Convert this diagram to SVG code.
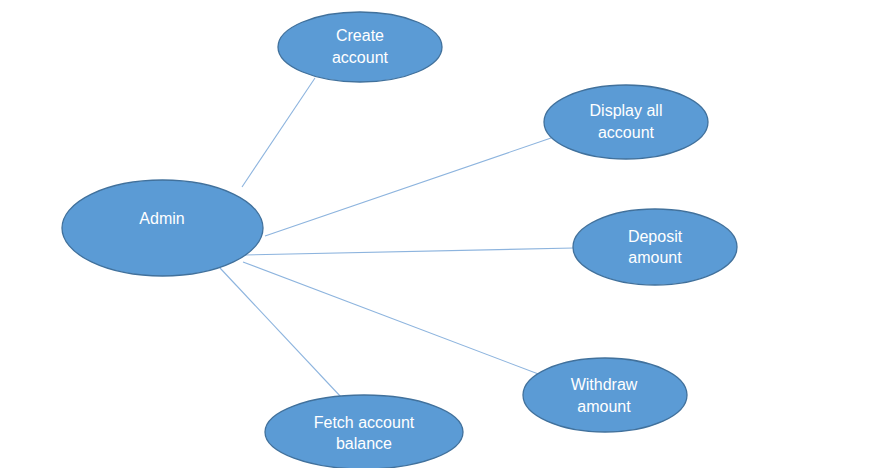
<svg xmlns="http://www.w3.org/2000/svg" width="886" height="468" viewBox="0 0 886 468">
<style>
.n ellipse{fill:#5b9bd5;stroke:#41719c;stroke-width:1.3}
.n text{fill:#ffffff;font-family:"Liberation Sans",Arial,sans-serif;font-size:16px;text-anchor:middle}
#edges line{stroke:#8db4de;stroke-width:1.1}
</style>
<rect width="886" height="468" fill="#ffffff"/>
<g id="edges">
<line x1="242" y1="187" x2="315" y2="78"/>
<line x1="265" y1="236" x2="551" y2="138"/>
<line x1="245" y1="255" x2="574" y2="248"/>
<line x1="243" y1="262" x2="541" y2="375"/>
<line x1="220" y1="268" x2="341" y2="397"/>
</g>
<g id="create" class="n"><ellipse cx="360" cy="47" rx="82" ry="35"/><text x="360" y="41">Create</text><text x="360" y="63">account</text></g>
<g id="admin" class="n"><ellipse cx="162.5" cy="228" rx="100.5" ry="48"/><text x="162" y="224">Admin</text></g>
<g id="display" class="n"><ellipse cx="626" cy="122" rx="82" ry="37"/><text x="626" y="116">Display all</text><text x="626" y="138">account</text></g>
<g id="deposit" class="n"><ellipse cx="655" cy="247" rx="82" ry="38"/><text x="655" y="242">Deposit</text><text x="655" y="263">amount</text></g>
<g id="withdraw" class="n"><ellipse cx="605" cy="395" rx="82" ry="37"/><text x="604" y="390">Withdraw</text><text x="604" y="412">amount</text></g>
<g id="fetch" class="n"><ellipse cx="364" cy="432" rx="99" ry="37"/><text x="364" y="428">Fetch account</text><text x="364" y="449">balance</text></g>
</svg>
